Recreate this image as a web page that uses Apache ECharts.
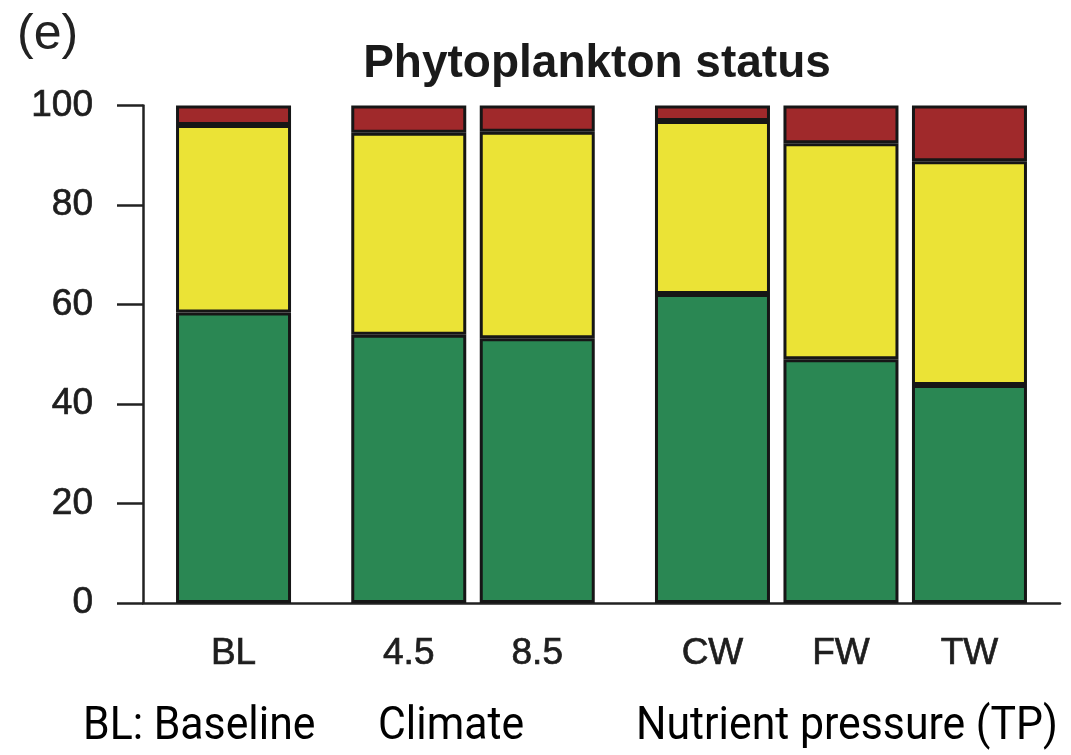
<!DOCTYPE html>
<html>
<head>
<meta charset="utf-8">
<script src="https://cdn.jsdelivr.net/npm/echarts@6/dist/echarts.min.js"></script>
<style>
  html, body { margin: 0; padding: 0; background: #fff; }
  #chart { width: 1071px; height: 755px; }
</style>
</head>
<body>
<div id="chart"></div>
<script>
// scenario groups (BL | climate | nutrient pressure)
const groups = [['BL'], ['4.5', '8.5'], ['CW', 'FW', 'TW']];
// share of lakes in each status class (%)
const good = [58.4, 53.9, 53.2, 62.1, 49.0, 43.8];
const moderate = [37.7, 40.6, 41.5, 34.8, 43.4, 45.0];
const poor = [3.9, 5.5, 5.3, 3.1, 7.6, 11.2];
const yTicks = [0, 20, 40, 60, 80, 100];

const colors = ['#2a8753', '#ebe336', '#a0292b'];

// R barplot-like spacing on a fine category axis:
// one slot = 0.05 bar widths, space 0.1 inside a group, 0.5 between groups
const padSlots = 15;
const pitchIn = 22;   // 1.1 / 0.05
const pitchOut = 30;  // 1.5 / 0.05
const nSlots = 157;

const slotOf = [];
let cur = padSlots;
groups.forEach(function (g, gi) {
  g.forEach(function (n, i) {
    if (gi > 0 || i > 0) cur += (i === 0 ? pitchOut : pitchIn);
    slotOf.push(cur);
  });
});
const names = [].concat.apply([], groups);

const cats = [];
for (let s = 0; s < nSlots; s++) {
  const k = slotOf.indexOf(s);
  cats.push(k >= 0 ? names[k] : ' ' + s);
}

const spread = function (vals) {
  const out = [];
  for (let s = 0; s < nSlots; s++) out.push('-');
  vals.forEach(function (v, i) { out[slotOf[i]] = v; });
  return out;
};

const chart = echarts.init(document.getElementById('chart'));

const mkSeries = function (name, vals, color) {
  return {
    name: name,
    type: 'bar',
    stack: 'all',
    barWidth: 115,
    itemStyle: { color: color, borderColor: '#161616', borderWidth: 3 },
    data: spread(vals),
  };
};

const labelFont = {
  fontFamily: 'Liberation Sans, Arial, sans-serif',
  fontSize: 37,
  color: '#1e1e1e',
  textBorderColor: '#1e1e1e',
  textBorderWidth: 0.7,
};

chart.setOption({
  animation: false,
  grid: { left: 143, right: 11, top: 105.5, bottom: 152 },
  xAxis: {
    type: 'category',
    data: cats,
    axisTick: { show: false },
    axisLine: { show: true, lineStyle: { color: '#222', width: 2.5 } },
    axisLabel: Object.assign({
      interval: 0,
      margin: 32,
      formatter: function (v) { return names.indexOf(v) >= 0 ? v : ''; },
    }, labelFont),
  },
  yAxis: {
    type: 'value',
    min: 0,
    max: 100,
    interval: 20,
    splitLine: { show: false },
    axisLine: { show: true, lineStyle: { color: '#222', width: 2.5 } },
    axisTick: { show: true, length: 26, lineStyle: { color: '#222', width: 2.5 } },
    axisLabel: Object.assign({
      margin: 50,
      padding: [6, 0, 0, 0],
      formatter: function (v) { return yTicks.indexOf(v) >= 0 ? String(v) : ''; },
    }, labelFont),
  },
  graphic: [
    {
      type: 'text', left: 17, top: 10,
      style: { text: '(e)', fontFamily: 'Liberation Sans, Arial, sans-serif', fontSize: 50, fill: '#222' },
    },
    {
      type: 'text', x: 597, y: 64,
      style: {
        text: 'Phytoplankton status', align: 'center', verticalAlign: 'middle',
        fontFamily: 'Liberation Sans, Arial, sans-serif', fontWeight: 'bold', fontSize: 46, fill: '#1a1a1a',
      },
    },
    {
      type: 'text', x: 83, y: 727, scaleX: 0.93,
      style: { text: 'BL: Baseline', verticalAlign: 'middle', fontFamily: 'Roboto, sans-serif', fontSize: 46, fill: '#000' },
    },
    {
      type: 'text', x: 378, y: 727, scaleX: 0.93,
      style: { text: 'Climate', verticalAlign: 'middle', fontFamily: 'Roboto, sans-serif', fontSize: 46, fill: '#000' },
    },
    {
      type: 'text', x: 636, y: 727, scaleX: 0.93,
      style: { text: 'Nutrient pressure (TP)', verticalAlign: 'middle', fontFamily: 'Roboto, sans-serif', fontSize: 46, fill: '#000' },
    },
  ],
  series: [
    mkSeries('Good', good, colors[0]),
    mkSeries('Moderate', moderate, colors[1]),
    mkSeries('Poor', poor, colors[2]),
  ],
});
</script>
</body>
</html>
